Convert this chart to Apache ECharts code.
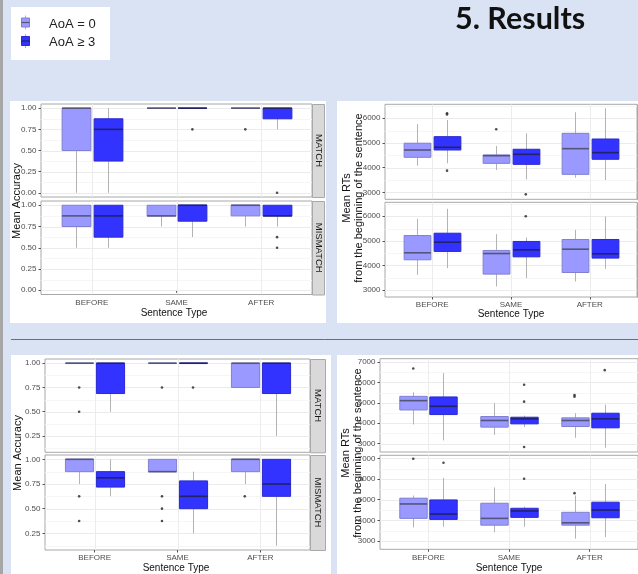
<!DOCTYPE html>
<html><head><meta charset="utf-8">
<script src="https://cdn.jsdelivr.net/npm/echarts@6/dist/echarts.min.js"></script>
<style>html,body{margin:0;padding:0;background:#dae3f3;}#c{width:638px;height:574px;}</style>
</head><body><div id="c"></div><script>
// ---------- DATA ----------
const categories = ['BEFORE', 'SAME', 'AFTER'];
const groups = ['AoA = 0', 'AoA \u2265 3'];
const facets = ['MATCH', 'MISMATCH'];
const slideTitle = '5. Results';
const xTitle = 'Sentence Type';
const accTitle = 'Mean Accuracy';
const rtTitle = 'Mean RTs\nfrom the beginning of the sentence';
const accTicksA = [0, 0.25, 0.5, 0.75, 1];
const accTicksB = [0.25, 0.5, 0.75, 1];
const rtTicksA = [3000, 4000, 5000, 6000];
const rtTicksB = [3000, 4000, 5000, 6000, 7000];

// boxes: [lower whisker, Q1, median, Q3, upper whisker] for BEFORE, SAME, AFTER
// Study A accuracy
const accA_match_g0 = [[0, 0.5, 1, 1, 1], [1, 1, 1, 1, 1], [1, 1, 1, 1, 1]];
const accA_match_g1 = [[0, 0.375, 0.75, 0.875, 1], [1, 1, 1, 1, 1], [0.75, 0.875, 1, 1, 1]];
const accA_match_g0_out = [[], [], [0.75]];
const accA_match_g1_out = [[], [0.75], [0]];
const accA_mism_g0 = [[0.5, 0.75, 0.875, 1, 1], [0.75, 0.875, 0.875, 1, 1], [0.75, 0.875, 1, 1, 1]];
const accA_mism_g1 = [[0.5, 0.625, 0.875, 1, 1], [0.625, 0.8125, 1, 1, 1], [0.75, 0.875, 0.875, 1, 1]];
const accA_mism_g0_out = [[], [], []];
const accA_mism_g1_out = [[], [], [0.625, 0.5]];
// Study A RTs
const rtA_match_g0 = [[4080, 4420, 4715, 4990, 5760], [3905, 4175, 4485, 4515, 4880], [3595, 3730, 4770, 5390, 6245]];
const rtA_match_g1 = [[4180, 4715, 4825, 5255, 5930], [3525, 4135, 4540, 4745, 5390], [3500, 4340, 4610, 5160, 6405]];
const rtA_match_g0_out = [[], [5555], []];
const rtA_match_g1_out = [[6200, 6150, 3880], [2920], []];
const rtA_mism_g0 = [[3620, 4230, 4515, 5215, 5890], [3150, 3650, 4485, 4610, 5270], [3350, 3715, 4660, 5055, 5445]];
const rtA_mism_g1 = [[3890, 4570, 4945, 5310, 6300], [3485, 4350, 4635, 4975, 5135], [3865, 4300, 4475, 5055, 5985]];
const rtA_mism_g0_out = [[], [], []];
const rtA_mism_g1_out = [[], [6000], []];
// Study B accuracy
const accB_match_g0 = [[1, 1, 1, 1, 1], [1, 1, 1, 1, 1], [0.75, 0.75, 1, 1, 1]];
const accB_match_g1 = [[0.5, 0.6875, 1, 1, 1], [1, 1, 1, 1, 1], [0.25, 0.6875, 1, 1, 1]];
const accB_match_g0_out = [[0.75, 0.5], [0.75], []];
const accB_match_g1_out = [[], [0.75], []];
const accB_mism_g0 = [[0.75, 0.875, 1, 1, 1], [0.875, 0.875, 0.875, 1, 1], [0.75, 0.875, 1, 1, 1]];
const accB_mism_g1 = [[0.625, 0.71875, 0.8125, 0.875, 1], [0.25, 0.5, 0.625, 0.78125, 0.875], [0.125, 0.625, 0.75, 1, 1]];
const accB_mism_g0_out = [[0.625, 0.375], [0.625, 0.5, 0.375], [0.625]];
const accB_mism_g1_out = [[], [], []];
// Study B RTs
const rtB_match_g0 = [[3940, 4650, 5105, 5315, 5510], [3435, 3810, 4135, 4330, 4975], [3290, 3840, 4135, 4265, 4490]];
const rtB_match_g1 = [[3160, 4425, 4830, 5285, 6450], [3810, 3970, 4215, 4295, 4375], [2805, 3775, 4215, 4490, 4910]];
const rtB_match_g0_out = [[6675], [], [5380, 5300]];
const rtB_match_g1_out = [[], [5885, 5055, 2840], [6595]];
const rtB_mism_g0 = [[3655, 4095, 4795, 5075, 5205], [3425, 3765, 4095, 4830, 5595], [3115, 3765, 3880, 4390, 5205]];
const rtB_mism_g1 = [[3685, 4045, 4305, 4990, 6055], [3685, 4145, 4455, 4585, 4665], [3195, 4125, 4500, 4880, 5760]];
const rtB_mism_g0_out = [[6985], [], [5320]];
const rtB_mism_g1_out = [[6790], [6020], []];

// ---------- STYLE / LAYOUT ----------
const SANS = "'Liberation Sans',Arial,sans-serif";
const fills = ['#9999ff', '#3333ff'];
const strokes = ['#8080d0', '#2a2ad0'];
const medians = ['#55557a', '#22226a'];
const DODGE = 0.1875, BOXW = 0.34;

const panels = [
  { boxes: [[accA_match_g0, accA_match_g1], [accA_mism_g0, accA_mism_g1]],
    outs: [[accA_match_g0_out, accA_match_g1_out], [accA_mism_g0_out, accA_mism_g1_out]],
    ymin: -0.05, ymax: 1.05, ticks: accTicksA, minor: [0.125, 0.375, 0.625, 0.875], fmt: v => v.toFixed(2),
    left: 41, width: 271, tops: [104, 201], heights: [93, 93.5], strip: [312, 12],
    panel: [10, 101, 316, 222], ytitle: accTitle, ytx: 17, yty: 201, xtx: 174, xty: 313 },
  { boxes: [[rtA_match_g0, rtA_match_g1], [rtA_mism_g0, rtA_mism_g1]],
    outs: [[rtA_match_g0_out, rtA_match_g1_out], [rtA_mism_g0_out, rtA_mism_g1_out]],
    ymin: 2720, ymax: 6565, ticks: rtTicksA, minor: [3500, 4500, 5500, 6500], fmt: v => String(v),
    left: 385, width: 252, tops: [104.3, 202.3], heights: [95, 94.7], strip: [637, 13],
    panel: [337, 101, 301, 222], ytitle: rtTitle, ytx: 352.5, yty: 198, xtx: 511, xty: 314.3 },
  { boxes: [[accB_match_g0, accB_match_g1], [accB_mism_g0, accB_mism_g1]],
    outs: [[accB_match_g0_out, accB_match_g1_out], [accB_mism_g0_out, accB_mism_g1_out]],
    ymin: 0.0813, ymax: 1.0437, ticks: accTicksB, minor: [0.125, 0.375, 0.625, 0.875], fmt: v => v.toFixed(2),
    left: 45, width: 265, tops: [359, 455], heights: [93.3, 95], strip: [310, 15],
    panel: [11, 355, 320, 219], ytitle: accTitle, ytx: 18, yty: 453, xtx: 176, xty: 568.7 },
  { boxes: [[rtB_match_g0, rtB_match_g1], [rtB_mism_g0, rtB_mism_g1]],
    outs: [[rtB_match_g0_out, rtB_match_g1_out], [rtB_mism_g0_out, rtB_mism_g1_out]],
    ymin: 2595, ymax: 7155, ticks: rtTicksB, minor: [3500, 4500, 5500, 6500], fmt: v => String(v),
    left: 380, width: 259, tops: [358.7, 455.3], heights: [93.3, 94], strip: [639, 13],
    panel: [337, 355, 301, 219], ytitle: rtTitle, ytx: 351.5, yty: 453, xtx: 509, xty: 568.7 }
];

const grid = [], xAxis = [], yAxis = [], series = [], graphic = [];

function boxRenderer(g) {
  return function (params, api) {
    const x = api.value(0) + (g === 0 ? -DODGE : DODGE);
    const w = api.size([BOXW, 0])[0];
    const pLo = api.coord([x, api.value(1)]);
    const pQ1 = api.coord([x, api.value(2)]);
    const pMd = api.coord([x, api.value(3)]);
    const pQ3 = api.coord([x, api.value(4)]);
    const pHi = api.coord([x, api.value(5)]);
    const cx = Math.round(pMd[0]) + 0.5;
    return { type: 'group', children: [
      { type: 'line', shape: { x1: cx, y1: pLo[1], x2: cx, y2: pQ1[1] }, style: { stroke: '#b3b3b3', lineWidth: 1 } },
      { type: 'line', shape: { x1: cx, y1: pQ3[1], x2: cx, y2: pHi[1] }, style: { stroke: '#b3b3b3', lineWidth: 1 } },
      { type: 'rect', shape: { x: cx - w / 2, y: pQ3[1], width: w, height: pQ1[1] - pQ3[1] }, style: { fill: fills[g], stroke: strokes[g], lineWidth: 1 } },
      { type: 'line', shape: { x1: cx - w / 2, y1: pMd[1], x2: cx + w / 2, y2: pMd[1] }, style: { stroke: medians[g], lineWidth: 1.6 } }
    ] };
  };
}

function gridLineRenderer(params, api) {
  const cs = params.coordSys;
  const kind = api.value(0), v = api.value(1);
  if (kind === 2) {
    const p = api.coord([v, 0]);
    const x = Math.round(p[0]) + 0.5;
    return { type: 'line', shape: { x1: x, y1: cs.y, x2: x, y2: cs.y + cs.height }, style: { stroke: '#ececec', lineWidth: 1 } };
  }
  const p = api.coord([1, v]);
  const y = Math.round(p[1]) + 0.5;
  return { type: 'line', shape: { x1: cs.x, y1: y, x2: cs.x + cs.width, y2: y }, style: { stroke: kind === 0 ? '#ebebeb' : '#f6f6f6', lineWidth: 1 } };
}

panels.forEach((P, pi) => {
  graphic.push({ type: 'rect', z: -10, shape: { x: P.panel[0], y: P.panel[1], width: P.panel[2], height: P.panel[3] }, style: { fill: '#ffffff' } });
  graphic.push({ type: 'text', x: P.ytx, y: P.yty, rotation: Math.PI / 2,
    style: { text: P.ytitle, x: 0, y: 0, textAlign: 'center', textVerticalAlign: 'middle', fill: '#111', font: '11px ' + SANS, lineHeight: 12 } });
  graphic.push({ type: 'text', x: P.xtx, y: P.xty,
    style: { text: xTitle, x: 0, y: 0, textAlign: 'center', textVerticalAlign: 'middle', fill: '#111', font: '10px ' + SANS } });

  facets.forEach((fname, fi) => {
    const gi = pi * 2 + fi;
    grid.push({ left: P.left, top: P.tops[fi], width: P.width, height: P.heights[fi], show: true,
      borderColor: '#a8a8a8', borderWidth: 1, backgroundColor: 'transparent' });
    const bottom = fi === 1;
    xAxis.push({ type: 'value', gridIndex: gi, min: 0.4, max: 3.6,
      axisLine: { show: false }, splitLine: { show: false },
      axisTick: { show: bottom, customValues: [1, 2, 3], length: 2.5, lineStyle: { color: '#555' } },
      axisLabel: { show: bottom, customValues: [1, 2, 3], formatter: v => categories[Math.round(v) - 1], margin: 4,
        color: '#4d4d4d', fontSize: 8, fontFamily: SANS } });
    yAxis.push({ type: 'value', gridIndex: gi, min: P.ymin, max: P.ymax,
      axisLine: { show: false }, splitLine: { show: false },
      axisTick: { show: true, customValues: P.ticks, length: 2.5, lineStyle: { color: '#555' } },
      axisLabel: { customValues: P.ticks, formatter: P.fmt, margin: 4.5, color: '#4d4d4d', fontSize: 8, fontFamily: SANS } });
    const gl = [];
    P.ticks.forEach(t => gl.push([0, t]));
    P.minor.forEach(t => gl.push([1, t]));
    categories.forEach((c, i) => gl.push([2, i + 1]));
    series.push({ type: 'custom', xAxisIndex: gi, yAxisIndex: gi, z: 1, silent: true, clip: true,
      renderItem: gridLineRenderer, data: gl });
    [0, 1].forEach(g => {
      series.push({ type: 'custom', name: groups[g], xAxisIndex: gi, yAxisIndex: gi, z: 3, silent: true,
        renderItem: boxRenderer(g),
        data: P.boxes[fi][g].map((b, i) => [i + 1].concat(b)) });
      const pts = [];
      P.outs[fi][g].forEach((arr, i) => arr.forEach(v => pts.push([i + 1 + (g === 0 ? -DODGE : DODGE), v])));
      series.push({ type: 'scatter', xAxisIndex: gi, yAxisIndex: gi, z: 4, silent: true,
        symbol: 'circle', symbolSize: 2.6, itemStyle: { color: '#222' }, data: pts });
    });
    const sy = P.tops[fi], sh = P.heights[fi];
    graphic.push({ type: 'rect', z: 5, shape: { x: P.strip[0] + 0.5, y: sy + 0.5, width: P.strip[1], height: sh }, style: { fill: '#d9d9d9', stroke: '#a8a8a8', lineWidth: 1 } });
    graphic.push({ type: 'text', z: 6, x: P.strip[0] + P.strip[1] / 2 + 0.5, y: sy + sh / 2, rotation: -Math.PI / 2,
      style: { text: fname, x: 0, y: 0, textAlign: 'center', textVerticalAlign: 'middle', fill: '#1a1a1a', font: '9.5px ' + SANS } });
  });
});

// slide decorations
graphic.push({ type: 'rect', z: -5, shape: { x: 0, y: 0, width: 3, height: 574 }, style: { fill: '#a6a6a6' } });
graphic.push({ type: 'line', z: -5, shape: { x1: 11, y1: 339.5, x2: 638, y2: 339.5 }, style: { stroke: '#4472c4', lineWidth: 1 } });
graphic.push({ type: 'text', z: 5, x: 455, y: 19,
  style: { text: slideTitle, x: 0, y: 0, textAlign: 'left', textVerticalAlign: 'middle', fill: '#111', font: 'bold 30.5px Lato, "Open Sans", sans-serif' } });
// legend
graphic.push({ type: 'rect', z: 5, shape: { x: 11, y: 7, width: 99, height: 53 }, style: { fill: '#ffffff' } });
groups.forEach((name, g) => {
  const cy = g === 0 ? 22.5 : 41;
  graphic.push({ type: 'line', z: 6, shape: { x1: 25.5, y1: cy - 7, x2: 25.5, y2: cy + 7 }, style: { stroke: '#b3b3b3', lineWidth: 1 } });
  graphic.push({ type: 'rect', z: 7, shape: { x: 21.5, y: cy - 4.5, width: 8, height: 9 }, style: { fill: fills[g], stroke: strokes[g], lineWidth: 1 } });
  graphic.push({ type: 'line', z: 8, shape: { x1: 21.5, y1: cy, x2: 29.5, y2: cy }, style: { stroke: medians[g], lineWidth: 1.2 } });
  graphic.push({ type: 'text', z: 8, x: 49, y: cy + 1.5,
    style: { text: name, x: 0, y: 0, textAlign: 'left', textVerticalAlign: 'middle', fill: '#222', font: '13px ' + SANS } });
});

const chart = echarts.init(document.getElementById('c'), null, { renderer: 'canvas' });
chart.setOption({ backgroundColor: '#dae3f3', animation: false, grid, xAxis, yAxis, series, graphic });
</script></body></html>
